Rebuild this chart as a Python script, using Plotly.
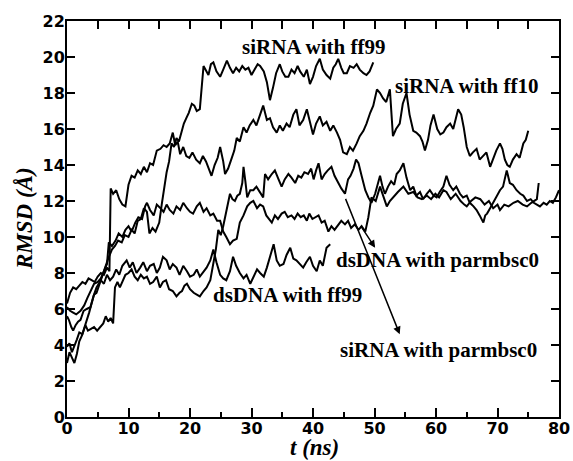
import plotly.graph_objects as go

# ---------------- data (t in ns, RMSD in Angstrom) ----------------
sirna_ff99 = [(0,3.0),(0.4,3.6),(0.8,3.3),(1.2,3.0),(1.6,3.5),(2.0,4.2),(2.4,4.5),(2.8,4.9),(3.2,5.4),(3.6,5.8),
 (4.0,6.3),(4.4,6.8),(4.8,6.9),(5.2,7.3),(5.6,7.8),(6.2,8.3),(6.7,8.8),(7.3,9.3),(7.8,9.5),(8.3,9.8),
 (8.9,9.7),(9.4,10.1),(10.0,10.0),(10.5,10.4),(11.0,10.2),(11.5,10.9),(12.0,11.0),(12.5,11.6),(13.0,11.4),(13.4,10.2),
 (13.9,10.5),(14.4,10.3),(15.0,10.8),(15.4,11.8),(15.8,12.8),(16.2,13.6),(16.6,14.2),(17.0,15.2),(17.4,15.0),(17.8,15.5),
 (18.2,15.3),(18.6,15.8),(19.0,16.3),(19.4,16.6),(19.8,16.9),(20.3,17.4),(20.7,17.3),(21.1,17.0),(21.6,17.1),(22.2,19.5),
 (22.6,19.2),(23.0,19.0),(23.4,19.6),(23.8,19.7),(24.3,19.2),(24.9,18.9),(25.4,19.3),(26.0,19.8),(26.5,19.4),(27.0,19.1),
 (27.5,19.4),(28.0,19.2),(28.5,19.5),(29.0,19.3),(29.5,19.4),(30.0,19.0),(30.5,19.3),(31.0,19.6),(31.4,19.5),(32.0,19.2),
 (32.5,18.6),(33.0,17.6),(33.5,18.3),(34.0,19.1),(34.6,19.6),(35.0,19.2),(35.5,18.9),(36.0,18.9),(36.5,19.3),(37.0,19.1),
 (37.5,19.5),(37.9,19.2),(38.5,18.9),(39.0,19.3),(39.5,18.5),(40.0,18.9),(40.5,19.5),(41.1,19.9),(41.6,19.3),(42.2,19.0),
 (42.8,18.8),(43.3,19.4),(43.7,19.6),(44.1,19.9),(44.6,19.4),(45.0,19.1),(45.5,19.1),(46.0,19.5),(46.6,19.4),(47.1,19.6),
 (47.6,19.3),(48.2,19.1),(48.7,19.0),(49.2,19.2),(49.8,19.7)]

sirna_ff10 = [(0,6.3),(0.5,6.9),(1.0,7.2),(1.5,7.1),(2.0,7.3),(2.5,7.5),(3.0,7.4),(3.5,7.7),(4.0,7.6),(4.5,7.5),
 (5.0,7.8),(5.5,8.0),(6.0,7.9),(6.5,8.3),(6.9,8.1),(7.1,12.7),(7.5,12.4),(8.0,12.6),(8.5,12.1),(9.0,11.8),
 (9.5,11.7),(10.0,12.9),(10.5,13.4),(11.0,13.3),(11.5,13.7),(12.0,13.5),(12.5,13.9),(13.0,13.6),(13.5,14.1),(14.0,14.0),
 (14.6,14.8),(15.2,14.9),(15.7,15.1),(16.2,15.0),(16.7,15.2),(17.2,15.8),(17.6,15.1),(18.0,15.3),(18.4,14.6),(18.9,15.0),
 (19.4,14.5),(19.9,14.4),(20.4,14.7),(21.0,14.3),(21.6,14.1),(22.1,14.5),(22.6,14.2),(23.0,13.8),(23.5,13.4),(24.0,14.0),
 (24.5,14.4),(24.9,15.0),(25.4,14.2),(25.7,13.5),(26.2,13.8),(26.7,14.3),(27.2,14.8),(27.6,15.5),(28.1,15.3),(28.7,16.1),
 (29.2,15.8),(29.7,16.2),(30.3,16.5),(30.8,16.2),(31.4,16.8),(31.9,17.3),(32.5,16.5),(33.0,16.6),(33.5,16.1),(34.1,15.8),
 (34.6,16.2),(35.1,15.9),(35.7,16.3),(36.2,16.1),(36.8,16.8),(37.3,17.1),(37.8,16.2),(38.4,16.5),(39.0,17.1),(39.5,16.4),
 (40.0,15.7),(40.5,16.3),(41.1,16.7),(41.6,16.2),(42.2,16.4),(42.8,15.9),(43.3,16.2),(43.9,15.8),(44.4,15.4),(44.9,14.7),
 (45.5,14.6),(46.0,15.0),(46.5,14.8),(47.1,15.2),(47.6,15.6),(48.2,15.9),(48.7,16.3),(49.3,16.9),(49.8,17.3),(50.4,18.2),
 (50.9,18.0),(51.4,17.7),(51.9,17.5),(52.5,18.2),(53.0,15.6),(53.5,16.0),(54.1,16.3),(54.6,17.4),(55.2,18.0),(55.7,16.8),
 (56.3,15.9),(56.8,15.8),(57.4,15.6),(57.8,15.3),(58.2,14.8),(58.7,15.4),(59.1,16.2),(59.6,16.8),(60.2,16.0),(60.7,15.7),
 (61.2,15.8),(61.7,16.1),(62.3,16.3),(62.8,16.0),(63.2,16.6),(63.6,17.1),(64.1,16.8),(64.5,16.1),(65.0,15.0),(65.5,14.5),
 (66.0,14.7),(66.6,14.9),(67.1,14.3),(67.7,14.5),(68.2,14.7),(68.8,13.9),(69.3,14.4),(69.8,14.8),(70.4,15.2),(70.8,14.9),
 (71.2,14.3),(71.6,14.0),(72.0,13.9),(72.5,14.3),(73.1,14.6),(73.6,14.4),(74.2,15.2),(74.6,15.4),(75.0,15.9)]

dsdna_ff99 = [(0,5.6),(0.3,5.4),(0.7,5.0),(1.0,4.8),(1.4,5.1),(1.8,5.3),(2.2,5.4),(2.7,5.9),(3.2,6.0),(3.8,6.1),
 (4.3,6.7),(4.8,7.2),(5.5,7.6),(6.0,7.4),(6.5,7.9),(7.0,7.6),(7.5,7.8),(8.0,8.2),(8.5,7.9),(9.0,8.4),
 (9.7,8.7),(10.2,8.3),(10.7,8.6),(11.3,8.0),(11.9,8.3),(12.4,8.6),(13.0,8.1),(13.5,8.4),(14.1,8.5),(14.6,8.0),
 (15.1,8.3),(15.6,8.9),(16.2,8.7),(16.7,8.2),(17.2,8.5),(17.8,8.3),(18.3,7.9),(18.9,8.4),(19.5,8.1),(20.0,7.8),
 (20.6,7.9),(21.1,8.2),(21.6,7.8),(22.2,8.1),(22.7,8.3),(23.3,8.7),(23.8,9.3),(24.3,8.6),(24.9,7.9),(25.4,7.7),
 (25.9,7.6),(26.5,8.1),(27.0,8.9),(27.5,8.4),(28.1,8.0),(28.7,7.7),(29.2,7.9),(29.8,7.4),(30.3,7.8),(30.9,8.2),
 (31.4,8.0),(32.0,7.8),(32.5,8.3),(33.0,8.9),(33.6,9.6),(34.1,8.7),(34.6,8.4),(35.2,8.5),(35.7,9.0),(36.3,9.4),
 (36.8,8.8),(37.3,8.7),(37.9,8.5),(38.4,8.3),(38.9,8.6),(39.5,8.9),(40.0,8.4),(40.6,8.1),(41.1,8.7),(41.6,8.4),
 (42.2,9.4),(42.8,9.6)]

dsdna_parmbsc0 = [(0,6.1),(0.5,5.9),(1.0,5.8),(1.5,5.7),(2.2,5.9),(2.8,6.2),(3.3,6.6),(3.9,7.0),(4.4,7.4),(5.0,7.5),
 (5.5,7.7),(6.0,8.1),(6.5,8.5),(6.8,9.7),(7.3,9.5),(7.9,9.8),(8.4,10.2),(9.0,10.0),(9.5,10.4),(10.0,10.6),
 (10.5,10.3),(11.1,10.8),(11.6,11.1),(12.2,11.0),(12.7,11.7),(13.0,11.9),(13.5,11.5),(14.1,11.2),(14.6,11.8),(15.2,11.6),
 (15.7,11.4),(16.2,11.8),(16.7,11.5),(17.3,11.3),(17.8,11.7),(18.4,11.5),(18.9,11.9),(19.5,11.6),(20.0,11.4),(20.5,11.3),
 (21.1,11.7),(21.6,11.9),(22.2,11.4),(22.7,11.6),(23.3,11.2),(23.8,11.3),(24.4,10.9),(24.9,10.9),(25.4,10.3),(25.9,10.0),
 (26.5,9.6),(27.0,9.8),(27.6,9.9),(28.1,10.8),(28.7,11.2),(29.3,11.7),(29.8,11.9),(30.3,12.0),(30.9,11.6),(31.4,11.8),
 (31.9,11.7),(32.4,11.2),(32.9,11.0),(33.3,10.8),(33.8,11.2),(34.3,11.0),(34.9,11.3),(35.4,11.4),(35.9,11.1),(36.5,11.2),
 (37.0,11.0),(37.5,11.3),(38.0,11.1),(38.5,11.2),(39.0,10.9),(39.4,11.3),(39.9,11.0),(40.3,11.1),(40.9,11.2),(41.4,10.8),
 (41.9,10.9),(42.5,10.3),(43.0,10.6),(43.5,10.4),(44.1,10.7),(44.6,10.9),(45.2,10.7),(45.7,10.9),(46.2,10.5),(46.8,10.7),
 (47.4,10.4),(47.9,10.6),(48.5,10.3),(49.0,11.1),(49.5,12.2),(50.2,12.0),(50.9,12.8),(51.4,12.3),(52.0,11.7),(52.5,12.0),
 (53.0,12.2),(53.8,12.5),(54.7,12.8),(55.5,12.4),(56.3,12.5),(57.0,12.2),(57.7,12.1),(58.5,12.3),(59.2,12.1),(59.9,12.4),
 (60.5,12.2),(61.2,12.6),(61.7,12.5),(62.4,12.1),(63.2,12.4),(64.0,12.0),(64.6,11.8),(65.0,11.7),(65.7,12.0),(66.4,12.2),
 (67.2,12.1),(67.9,11.8),(68.6,12.0),(69.3,11.6),(70.0,11.8),(70.4,11.5),(71.1,11.8),(71.8,11.7),(72.6,11.9),(73.3,12.0),
 (74.1,11.8),(74.8,11.7),(75.5,11.9),(76.0,12.0),(76.4,12.1),(76.7,13.0)]

sirna_parmbsc0 = [(0,3.9),(0.4,4.1),(0.8,3.6),(1.2,3.9),(1.6,4.3),(2.0,4.7),(2.5,4.6),(3.0,5.1),(3.4,4.8),(3.9,4.9),
 (4.4,5.0),(4.9,4.8),(5.4,5.0),(5.9,5.2),(6.3,5.6),(6.7,5.3),(7.1,5.5),(7.5,5.2),(7.8,7.2),(8.2,7.5),
 (8.6,7.2),(9.1,7.6),(9.5,7.9),(10.0,8.0),(10.5,8.2),(11.0,7.8),(11.5,7.6),(12.0,7.9),(12.5,7.7),(13.0,7.8),
 (13.5,7.4),(14.0,7.5),(14.6,7.8),(15.1,7.2),(15.6,7.5),(16.1,7.6),(16.6,7.1),(17.2,7.0),(17.8,6.7),(18.3,6.9),
 (18.7,7.0),(19.1,7.3),(19.5,7.4),(20.0,7.1),(20.6,6.9),(21.1,6.8),(21.6,6.7),(22.2,7.0),(22.7,7.2),(23.3,7.6),
 (23.8,8.5),(24.2,9.3),(24.6,10.4),(25.0,10.1),(25.4,10.6),(26.0,11.7),(26.5,12.4),(26.9,12.1),(27.3,12.0),(27.7,12.3),
 (28.1,12.4),(28.5,13.0),(28.7,13.9),(29.0,13.1),(29.3,12.2),(29.8,12.6),(30.3,12.6),(30.8,12.8),(31.3,12.5),(31.9,12.2),
 (32.2,13.5),(32.7,13.2),(33.3,13.5),(33.8,13.7),(34.4,13.2),(34.9,12.8),(35.4,13.2),(36.0,13.5),(36.5,13.3),(37.1,13.0),
 (37.6,13.4),(38.1,13.3),(38.6,13.6),(39.2,13.5),(39.7,13.8),(40.1,13.2),(40.5,13.7),(40.9,14.1),(41.4,13.2),(41.9,13.5),
 (42.4,13.7),(43.0,13.9),(43.5,13.4),(44.1,13.0),(44.6,12.7),(45.2,12.4),(45.7,13.2),(46.1,13.4),(46.6,13.8),(47.0,14.3),
 (47.4,14.1),(47.9,13.4),(48.5,12.6),(49.0,12.2),(49.5,11.9),(50.1,12.4),(50.9,13.4),(51.3,12.8),(51.7,12.4),(52.2,12.8),
 (52.7,13.1),(53.2,12.9),(53.6,13.5),(54.1,13.7),(54.7,14.1),(55.2,13.3),(55.8,12.6),(56.3,12.8),(56.8,12.3),(57.4,12.5),
 (57.9,12.1),(58.5,12.4),(59.0,12.6),(59.6,12.3),(60.1,12.2),(60.6,12.5),(61.2,12.8),(61.7,13.4),(62.2,12.9),(62.8,12.6),
 (63.3,12.8),(63.9,12.4),(64.4,12.2),(65.0,12.3),(65.5,11.9),(66.1,11.7),(66.6,11.5),(67.1,11.2),(67.7,10.8),(68.0,11.2),
 (68.3,11.3),(68.8,11.6),(69.4,12.0),(69.9,12.3),(70.4,12.6),(70.9,12.8),(71.5,13.7),(72.0,13.0),(72.5,12.9),(73.1,12.6),
 (73.7,12.4),(74.2,12.3),(74.8,12.0),(75.4,12.1),(75.9,11.9),(76.4,11.8),(76.9,11.7),(77.5,11.9),(78.0,11.8),(78.5,12.0),
 (79.0,11.9),(79.5,12.2),(80.0,12.6)]

series = [sirna_ff99, sirna_ff10, dsdna_ff99, dsdna_parmbsc0, sirna_parmbsc0]

labels = ["siRNA with ff99", "siRNA with ff10", "dsDNA with parmbsc0", "dsDNA with ff99", "siRNA with parmbsc0"]
label_pos = [(40.2, 20.55), (65.0, 18.4), (60.3, 8.7), (35.8, 6.8), (60.4, 3.75)]
# arrows: (tail t, tail y, head t, head y)
arrows = [(45.2, 12.2, 54.1, 4.6), (47.6, 10.7, 50.1, 9.4)]

x_title = "<i>t (ns)</i>"
y_title = "<i>RMSD (Å)</i>"

# ---------------- figure ----------------
fig = go.Figure()
for s in series:
    fig.add_trace(go.Scatter(x=[p[0] for p in s], y=[p[1] for p in s], mode="lines",
                             line=dict(color="black", width=2), showlegend=False, hoverinfo="skip"))
# dummy trace to render the top axis
fig.add_trace(go.Scatter(x=[0, 80], y=[None, None], xaxis="x2", mode="lines",
                         showlegend=False, hoverinfo="skip"))

tickfont = dict(family="DejaVu Sans", size=16, color="black", weight="bold")
ann_font = dict(family="Liberation Serif", size=21, color="black", weight="bold")

fig.update_layout(
    width=573, height=461,
    margin=dict(l=67, r=14, t=21, b=44, autoexpand=False),
    paper_bgcolor="white", plot_bgcolor="white",
    xaxis=dict(range=[0, 80], dtick=10, tick0=0, ticks="inside", ticklen=9, tickwidth=2, tickcolor="black",
               showline=True, linewidth=2, linecolor="black", mirror=True, automargin=False,
               ticklabelstandoff=-4,
               minor=dict(dtick=5, ticks="inside", ticklen=5, tickwidth=2, tickcolor="black", showgrid=False),
               showgrid=False, zeroline=False, tickfont=tickfont),
    xaxis2=dict(range=[0, 80], overlaying="x", side="top", anchor="y", dtick=5, tick0=0, ticks="inside",
                ticklen=8, tickwidth=2, tickcolor="black", showticklabels=False, showgrid=False,
                zeroline=False, showline=False, automargin=False),
    yaxis=dict(range=[0, 22], dtick=2, tick0=0, ticks="inside", ticklen=8, tickwidth=2, tickcolor="black",
               showline=True, linewidth=2, linecolor="black", mirror="ticks", automargin=False,
               ticklabelstandoff=-3,
               showgrid=False, zeroline=False, tickfont=tickfont),
)

for txt, (tx, ty) in zip(labels, label_pos):
    fig.add_annotation(x=tx, y=ty, xref="x", yref="y", text=txt, showarrow=False, font=ann_font,
                       xanchor="center", yanchor="middle")

for (tx, ty, hx, hy) in arrows:
    fig.add_annotation(x=hx, y=hy, ax=tx, ay=ty, xref="x", yref="y", axref="x", ayref="y",
                       text="", showarrow=True, arrowhead=2, arrowsize=1.0, arrowwidth=1.5,
                       arrowcolor="black", standoff=0, startstandoff=0)

title_font = dict(family="Liberation Serif", size=23, color="black", weight="bold")
fig.add_annotation(x=(314.5 - 67) / 492, y=(417 - 447) / 396, xref="paper", yref="paper",
                   text=x_title, showarrow=False, font=title_font, xanchor="center", yanchor="middle")
fig.add_annotation(x=(24 - 67) / 492, y=0.5, xref="paper", yref="paper", textangle=-90,
                   text=y_title, showarrow=False, font=title_font, xanchor="center", yanchor="middle")

fig.write_html("out.html")
